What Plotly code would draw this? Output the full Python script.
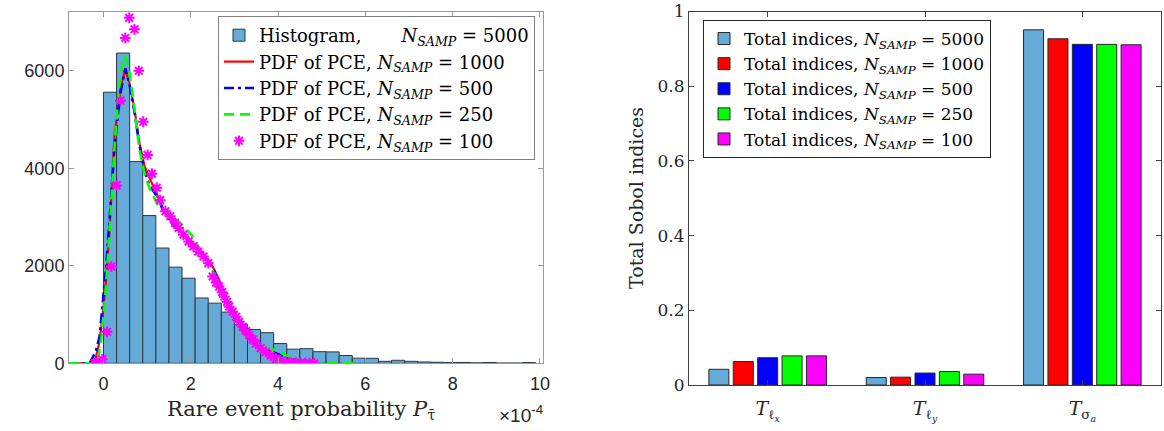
import plotly.graph_objects as go

W, H = 1164, 431

# ---------------- data: left panel ----------------
hist_bin_start = 0.0
hist_bin_width = 0.3
hist_heights = [5561, 6365, 4138, 3031, 2365, 1973, 1746, 1340, 1234, 1050,
                800, 694, 628, 405, 290, 300, 238, 234, 160, 105,
                103, 41, 62, 41, 27, 21, 14, 18, 9, 17, 5, 5, 14]

pce1000_x = [-0.8, -0.3, -0.2, -0.1, -0.03, 0.06, 0.14, 0.18, 0.25, 0.33, 0.40, 0.50,
             0.59, 0.71, 0.82, 0.94, 1.05, 1.13, 1.21, 1.36, 1.59, 1.81, 2.04, 2.27,
             2.43, 2.54, 2.65, 2.77, 2.88, 3.04, 3.19, 3.42, 3.65, 3.95, 4.26, 4.5, 4.8]
pce1000_y = [0, 0, 27, 400, 887, 1711, 2742, 3430, 4667, 5217, 5698, 6021,
             5767, 5217, 4530, 4048, 3800, 3650, 3499, 3190, 2881, 2674, 2480, 2260,
             2090, 1918, 1711, 1437, 1161, 887, 646, 439, 268, 97, 6, 0, 0]

pce500_x = [-0.8, -0.32, -0.24, -0.17, -0.09, -0.02, 0.06, 0.14, 0.25, 0.33, 0.40, 0.50,
            0.59, 0.71, 0.82, 0.94, 1.05, 1.21, 1.36, 1.59, 1.81, 2.04, 2.27, 2.43,
            2.54, 2.65, 2.77, 2.88, 3.04, 3.19, 3.42, 3.65, 3.87, 4.26, 4.64, 4.98]
pce500_y = [0, 0, 130, 268, 543, 1160, 1986, 2949, 4400, 5100, 5600, 6050,
            5750, 5150, 4500, 3950, 3650, 3450, 3150, 2850, 2640, 2430, 2230, 2050,
            1880, 1650, 1400, 1170, 930, 720, 480, 310, 233, 97, 27, 0]

pce250_x = [-0.8, -0.2, -0.13, -0.05, 0.05, 0.14, 0.25, 0.35, 0.45, 0.50, 0.58, 0.70,
            0.82, 0.94, 1.05, 1.24, 1.45, 1.66, 1.80, 2.04, 2.20, 2.40, 2.60, 2.80,
            3.00, 3.20, 3.40, 3.60, 3.95, 4.18, 4.49, 5.02, 5.8]
pce250_y = [0, 0, 62, 500, 1500, 2700, 4400, 5600, 6250, 6300, 6050, 5300,
            4400, 3900, 3600, 3258, 3100, 2949, 2850, 2605, 2350, 2080, 1720, 1330,
            980, 700, 500, 360, 268, 165, 62, 6, 0]

pce100_x = [-0.20, -0.17, -0.03, 0.08, 0.18, 0.30, 0.39, 0.50, 0.59, 0.71, 0.81, 0.91,
            1.01, 1.11, 1.22, 1.30, 1.42, 1.53, 1.64, 1.72, 1.83, 1.95, 2.06, 2.17,
            2.29, 2.40, 2.50, 2.58, 2.65, 2.72, 2.77, 2.83, 2.88, 2.96, 3.04, 3.11,
            3.19, 3.27, 3.34, 3.42, 3.49, 3.60, 3.72, 3.83, 3.95, 4.06, 4.18, 4.30,
            4.41, 4.52, 4.62, 4.72, 4.83]
pce100_y = [0, 0, 82, 646, 1986, 3650, 5388, 6675, 7087, 6852, 6000, 4955,
            4275, 3891, 3602, 3347, 3120, 3017, 2881, 2777, 2639, 2501, 2398, 2295,
            2192, 2055, 1780, 1660, 1573, 1460, 1367, 1260, 1161, 1060, 955, 850,
            748, 660, 577, 490, 406, 310, 233, 160, 97, 55, 27, 14,
            8, 4, 2, 1, 0]

x_ticks_left = [0, 2, 4, 6, 8, 10]
y_ticks_left = [0, 2000, 4000, 6000]

# ---------------- data: right panel ----------------
sobol_categories = ["<i>T</i><sub>ℓ<sub><i>x</i></sub></sub>",
                    "<i>T</i><sub>ℓ<sub><i>y</i></sub></sub>",
                    "<i>T</i><sub>σ<sub><i>a</i></sub></sub>"]
sobol_5000 = [0.042, 0.020, 0.951]
sobol_1000 = [0.063, 0.021, 0.927]
sobol_500 = [0.073, 0.032, 0.912]
sobol_250 = [0.078, 0.036, 0.912]
sobol_100 = [0.078, 0.029, 0.911]
y_ticks_right = [0, 0.2, 0.4, 0.6, 0.8, 1]
y_ticktext_right = ["0", "0.2", "0.4", "0.6", "0.8", "1"]

# ---------------- styling ----------------
SERIF = "DejaVu Serif"
SANS = "Liberation Sans"
HIST_COLOR = "rgb(102,170,215)"
EDGE = "rgb(45,55,65)"
NS = "<i>N</i><sub><i>SAMP</i></sub>"


def px_x(p):
    return p / W


def px_y(p):
    return 1 - p / H


fig = go.Figure()

hist_x = [hist_bin_start + hist_bin_width * (i + 0.5) for i in range(len(hist_heights))]
fig.add_trace(go.Bar(
    x=hist_x, y=hist_heights, width=hist_bin_width,
    marker=dict(color=HIST_COLOR, line=dict(color=EDGE, width=1)),
    name="Histogram,\u00a0\u00a0\u00a0\u00a0\u00a0\u00a0 " + NS + " = 5000",
    xaxis="x", yaxis="y", legend="legend"))

fig.add_trace(go.Scatter(
    x=pce1000_x, y=pce1000_y, mode="lines",
    line=dict(color="#ff0000", width=2.2),
    name="PDF of PCE, " + NS + " = 1000", xaxis="x", yaxis="y", legend="legend"))
fig.add_trace(go.Scatter(
    x=pce500_x, y=pce500_y, mode="lines",
    line=dict(color="#0000ff", width=2.6, dash="10px,4px,3px,4px"),
    name="PDF of PCE, " + NS + " = 500", xaxis="x", yaxis="y", legend="legend"))
fig.add_trace(go.Scatter(
    x=pce250_x, y=pce250_y, mode="lines",
    line=dict(color="#00ff00", width=2.6, dash="10px,6px"),
    name="PDF of PCE, " + NS + " = 250", xaxis="x", yaxis="y", legend="legend"))
fig.add_trace(go.Scatter(
    x=pce100_x, y=pce100_y, mode="markers",
    marker=dict(symbol="asterisk-open", size=9, color="#ff00ff",
                line=dict(color="#ff00ff", width=2)),
    name="PDF of PCE, " + NS + " = 100", xaxis="x", yaxis="y", legend="legend"))

bar_series = [(sobol_5000, HIST_COLOR, "5000"), (sobol_1000, "#ff0000", "1000"),
              (sobol_500, "#0000ff", "500"), (sobol_250, "#00ff00", "250"),
              (sobol_100, "#ff00ff", "100")]
cat_pos = [1, 2, 3]
for vals, col, lab in bar_series:
    fig.add_trace(go.Bar(
        x=cat_pos, y=vals,
        marker=dict(color=col, line=dict(color="rgb(40,40,40)", width=1)),
        name="Total indices, " + NS + " = " + lab,
        xaxis="x2", yaxis="y2", legend="legend2"))

axis_common = dict(showgrid=False, zeroline=False, showline=True, mirror="ticks",
                   ticks="inside", ticklen=5, automargin=False)

fig.update_layout(
    width=W, height=H,
    margin=dict(l=0, r=0, t=0, b=0),
    paper_bgcolor="white", plot_bgcolor="white",
    barmode="group", bargap=0.225, bargroupgap=0.18,
    xaxis=dict(domain=[px_x(69), px_x(543)], range=[-0.79, 10.07],
               tickvals=x_ticks_left, anchor="y",
               tickfont=dict(family=SANS, size=18, color="#262626"),
               linecolor="#9a9a9a", tickcolor="#9a9a9a", linewidth=1,
               ticklabelstandoff=4, **axis_common),
    yaxis=dict(domain=[px_y(363.3), px_y(11.7)], range=[0, 7213],
               tickvals=y_ticks_left, anchor="x",
               tickfont=dict(family=SANS, size=18, color="#262626"),
               linecolor="#9a9a9a", tickcolor="#9a9a9a", linewidth=1,
               **axis_common),
    xaxis2=dict(domain=[px_x(689), px_x(1161)], range=[0.5, 3.5],
                tickvals=cat_pos, ticktext=sobol_categories, anchor="y2",
                tickfont=dict(family=SERIF, size=19, color="#262626"),
                linecolor="#404040", tickcolor="#404040", linewidth=1,
                ticklabelstandoff=6, **axis_common),
    yaxis2=dict(domain=[px_y(385), px_y(11.5)], range=[0, 1],
                tickvals=y_ticks_right, ticktext=y_ticktext_right, anchor="x2",
                tickfont=dict(family=SERIF, size=17, color="#262626"),
                linecolor="#404040", tickcolor="#404040", linewidth=1,
                **axis_common),
    legend=dict(x=px_x(535), y=px_y(16), xanchor="right", yanchor="top",
                bgcolor="white", bordercolor="#808080", borderwidth=1,
                font=dict(family=SERIF, size=18, color="black"),
                itemwidth=30, tracegroupgap=0),
    legend2=dict(x=px_x(703), y=px_y(20), xanchor="left", yanchor="top",
                 bgcolor="white", bordercolor="#262626", borderwidth=1,
                 font=dict(family=SERIF, size=17, color="black"),
                 itemwidth=30, tracegroupgap=0),
    annotations=[
        dict(text="Rare event probability <i>P</i><sub>τ\u0304</sub>",
             x=px_x(301), y=px_y(410), xref="paper", yref="paper",
             showarrow=False, xanchor="center", yanchor="middle",
             font=dict(family=SERIF, size=21, color="#262626")),
        dict(text="×10<sup>-4</sup>",
             x=px_x(545), y=px_y(414), xref="paper", yref="paper",
             showarrow=False, xanchor="right", yanchor="middle",
             font=dict(family=SANS, size=19, color="#262626")),
        dict(text="Total Sobol indices", textangle=-90,
             x=px_x(636), y=px_y(198), xref="paper", yref="paper",
             showarrow=False, xanchor="center", yanchor="middle",
             font=dict(family=SERIF, size=19, color="#262626")),
    ],
)

fig.write_html("out.html", config={"displayModeBar": False},
               post_script="document.body.style.margin='0';")
